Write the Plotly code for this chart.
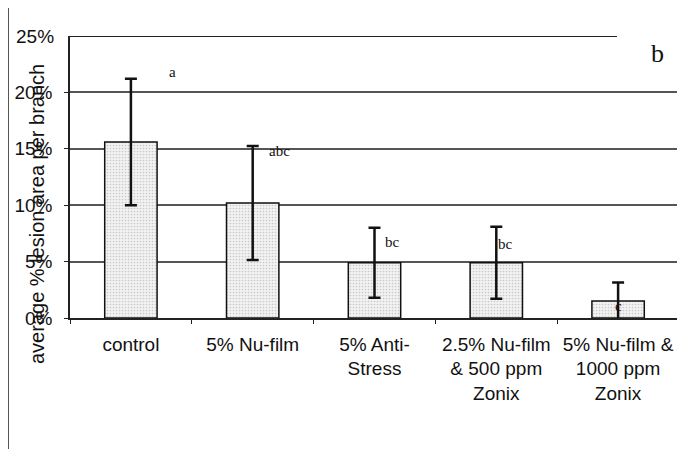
import plotly.graph_objects as go

categories = ["control", "5% Nu-film", "5% Anti-<br>Stress", "2.5% Nu-film<br>& 500 ppm<br>Zonix", "5% Nu-film &<br>1000 ppm<br>Zonix"]
means = [15.6, 10.2, 4.9, 4.9, 1.5]
errors = [5.6, 5.05, 3.1, 3.2, 1.65]
letters = ["a", "abc", "bc", "bc", "c"]
letter_y = [21.8, 14.8, 6.7, 6.6, 1.1]
letter_shift = [42, 27, 18, 9, 0]
y_ticks = [0, 5, 10, 15, 20, 25]
y_ticktext = ["0%", "5%", "10%", "15%", "20%", "25%"]

W, H = 677, 441
L, R, T, B = 62, 6, 28, 131
PW, PH = W - L - R, H - T - B


def px(xf):
    return (xf - L) / PW


def py(yf):
    return (H - B - yf) / PH


fig = go.Figure()
fig.add_trace(go.Bar(
    x=categories, y=means,
    width=0.43,
    marker=dict(color="#ececec", line=dict(color="#111", width=1.5),
                pattern=dict(shape=".", fgcolor="#a0a0a0", bgcolor="#f2f2f2", size=3, solidity=0.25)),
    error_y=dict(type="data", array=errors, visible=True, color="#111", thickness=2.5, width=6),
    showlegend=False,
))

for c, t, yv, sh in zip(categories, letters, letter_y, letter_shift):
    fig.add_annotation(x=c, y=yv, text=t, showarrow=False, xshift=sh,
                       font=dict(family="Liberation Serif", size=15, color="#111"))

fig.add_annotation(xref="paper", yref="paper", x=px(649), y=py(46),
                   xanchor="center", yanchor="middle",
                   text="b", showarrow=False,
                   font=dict(family="Liberation Serif", size=26, color="#111"))
fig.add_annotation(xref="paper", yref="paper", x=px(29), y=py(206),
                   xanchor="center", yanchor="middle",
                   text="average % lesion area per branch", textangle=-90, showarrow=False,
                   font=dict(family="Liberation Sans", size=20, color="#111"))

# top line and right frame line
fig.add_shape(type="line", xref="paper", yref="y", x0=0, x1=px(609), y0=25, y1=25,
              line=dict(color="#222", width=2))
fig.add_shape(type="line", xref="paper", yref="y", x0=1, x1=1, y0=0, y1=21.1,
              line=dict(color="#222", width=1.5))
# page left border
fig.add_shape(type="line", xref="paper", yref="paper", x0=px(0.5), x1=px(0.5),
              y0=py(H), y1=py(0), line=dict(color="#555", width=1))

fig.update_layout(
    width=W, height=H,
    margin=dict(l=L, r=R, t=T, b=B),
    paper_bgcolor="white", plot_bgcolor="white",
    font=dict(family="Liberation Sans", size=19, color="#111"),
)
fig.update_xaxes(type="category", showline=True, linecolor="#222", linewidth=1.5,
                 ticks="outside", tickson="boundaries", ticklen=4, tickcolor="#222",
                 ticklabelstandoff=8,
                 tickfont=dict(size=19), showgrid=False)
fig.update_yaxes(range=[0, 25], tickvals=y_ticks[:-1], ticktext=y_ticktext[:-1],
                 showline=True, linecolor="#222", linewidth=1.5,
                 ticks="outside", ticklen=4, tickcolor="#222", ticklabelstandoff=8,
                 showgrid=True, gridcolor="#555", gridwidth=1.5,
                 tickfont=dict(size=19), zeroline=False)
fig.add_annotation(xref="paper", yref="y", x=0, y=25, xshift=-14, xanchor="right",
                   text="25%", showarrow=False, font=dict(size=19, color="#111"))

fig.write_html("out.html")
